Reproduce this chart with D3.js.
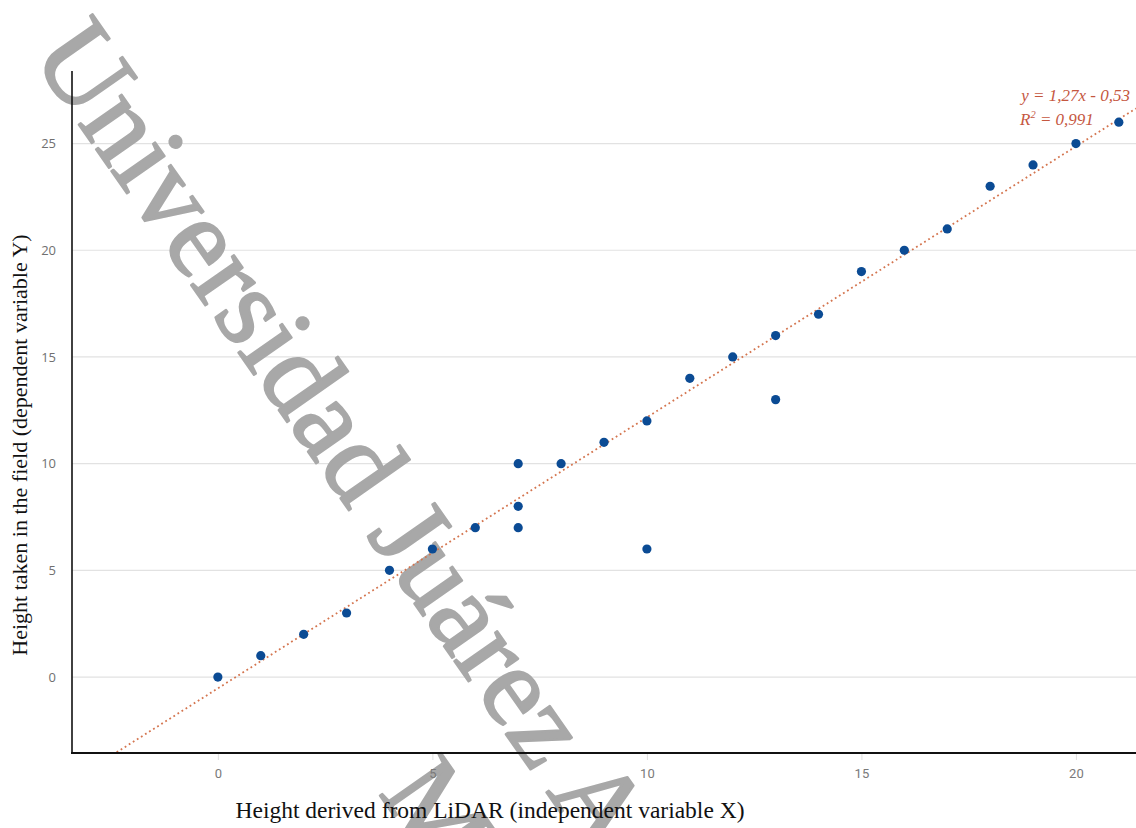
<!DOCTYPE html>
<html>
<head>
<meta charset="utf-8">
<script src="https://cdn.jsdelivr.net/npm/d3@7"></script>
<style>
  html, body { margin: 0; padding: 0; background: #fff; }
  svg { display: block; }
</style>
</head>
<body>
<svg id="chart" width="1136" height="828"></svg>
<script>
// ---- data ----
const lidarX = [0, 1, 2, 3, 4, 5, 6, 7, 7, 7, 8, 9, 10, 10, 11, 12, 13, 13, 14, 15, 16, 17, 18, 19, 20, 21];
const fieldY = [0, 1, 2, 3, 5, 6, 7, 10, 8, 7, 10, 11, 12, 6, 14, 15, 16, 13, 17, 19, 20, 21, 23, 24, 25, 26];
const xTicks = [0, 5, 10, 15, 20];
const yTicks = [0, 5, 10, 15, 20, 25];
const trendSlope = 1.27;
const trendIntercept = -0.53;
const eqText = "y = 1,27x - 0,53";
const r2Text = "0,991";
const xTitle = "Height derived from LiDAR (independent variable X)";
const yTitle = "Height taken in the field (dependent variable Y)";
const watermark1 = "Universidad Juárez Autónoma de Tabasco";
const watermark2 = "México";

// ---- layout ----
const W = 1136, H = 828;
const plot = { left: 72, right: 1136, top: 71, bottom: 753 };
const svg = d3.select("#chart");

const x = d3.scaleLinear().domain([-3.4, 21.4]).range([plot.left, plot.right]);
const y = d3.scaleLinear().domain([-3.56, 28.4]).range([plot.bottom, plot.top]);

svg.append("defs").append("clipPath").attr("id", "plotclip")
  .append("rect").attr("x", plot.left).attr("y", plot.top)
  .attr("width", plot.right - plot.left).attr("height", plot.bottom - plot.top);

// gridlines
svg.append("g").selectAll("line").data(yTicks).join("line")
  .attr("x1", plot.left).attr("x2", plot.right)
  .attr("y1", d => y(d)).attr("y2", d => y(d))
  .attr("stroke", "#e2e2e2").attr("stroke-width", 1.2);

// watermark (beneath the chart marks)
const wm = svg.append("g").attr("font-family", "'Liberation Serif', serif")
  .attr("font-size", 114).attr("fill", "#a8a8a8")
  .attr("stroke", "#a8a8a8").attr("stroke-width", 2.2).attr("stroke-linejoin", "round");
wm.append("text").attr("transform", "translate(30,55) rotate(55)").text(watermark1);
wm.append("text").attr("transform", "translate(378,793) rotate(55)").text(watermark2);

// y axis labels
const yAxis = d3.axisLeft(y).tickValues(yTicks).tickSize(0).tickPadding(16);
const gy = svg.append("g").attr("transform", `translate(${plot.left},0)`).call(yAxis);
gy.select(".domain").remove();
gy.selectAll("text").attr("font-family", "'Open Sans', 'Liberation Sans', sans-serif")
  .attr("font-size", 13).attr("fill", "#707070");

// x axis labels
const xAxis = d3.axisBottom(x).tickValues(xTicks).tickSize(7).tickPadding(9);
const gx = svg.append("g").attr("transform", `translate(0,${plot.bottom})`).call(xAxis);
gx.select(".domain").remove();
gx.selectAll(".tick line").attr("stroke", "#e0e0e0");
gx.selectAll("text").attr("font-family", "'Liberation Sans Narrow', 'Roboto', sans-serif")
  .attr("font-size", 13).attr("fill", "#7a7a7a");

// trend line
const tx = [x.domain()[0], x.domain()[1]];
svg.append("line")
  .attr("clip-path", "url(#plotclip)")
  .attr("x1", x(tx[0])).attr("y1", y(trendSlope * tx[0] + trendIntercept))
  .attr("x2", x(tx[1])).attr("y2", y(trendSlope * tx[1] + trendIntercept))
  .attr("stroke", "#d4754f").attr("stroke-width", 1.8)
  .attr("stroke-dasharray", "1.8,3");

// points
svg.append("g").selectAll("circle").data(lidarX.map((v, i) => [v, fieldY[i]])).join("circle")
  .attr("cx", d => x(d[0])).attr("cy", d => y(d[1])).attr("r", 4.6)
  .attr("fill", "#0b4b94");

// axes lines
svg.append("line").attr("x1", plot.left).attr("x2", plot.left)
  .attr("y1", plot.top).attr("y2", plot.bottom + 1)
  .attr("stroke", "#111").attr("stroke-width", 1.6);
svg.append("line").attr("x1", plot.left - 1).attr("x2", plot.right)
  .attr("y1", plot.bottom).attr("y2", plot.bottom)
  .attr("stroke", "#111").attr("stroke-width", 2);

// equation
const eq = svg.append("g").attr("font-family", "'Liberation Serif', serif")
  .attr("font-style", "italic").attr("font-size", 17).attr("fill", "#c5573f");
eq.append("text").attr("x", 1130).attr("y", 101).attr("text-anchor", "end").text(eqText);
const r2 = eq.append("text").attr("x", 1020).attr("y", 125);
r2.append("tspan").text("R");
r2.append("tspan").attr("font-size", 10.5).attr("dy", -7).text("2");
r2.append("tspan").attr("dy", 7).text(" = " + r2Text);

// axis titles
svg.append("text").attr("x", 490).attr("y", 818).attr("text-anchor", "middle")
  .attr("font-family", "'Liberation Serif', serif").attr("font-size", 23.5).attr("fill", "#111")
  .text(xTitle);
svg.append("text").attr("transform", "translate(27,445) rotate(-90)").attr("text-anchor", "middle")
  .attr("font-family", "'Liberation Serif', serif").attr("font-size", 22).attr("fill", "#111")
  .text(yTitle);
</script>
</body>
</html>
